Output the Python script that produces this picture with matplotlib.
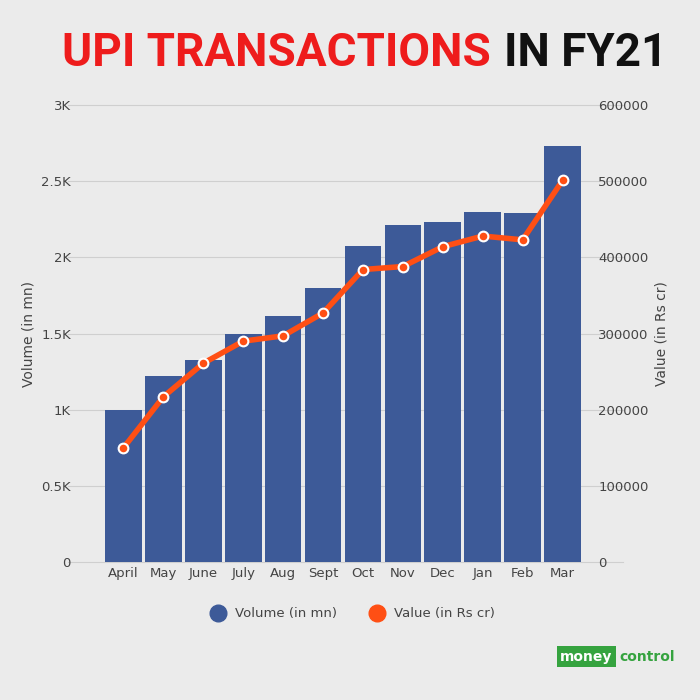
import matplotlib
matplotlib.use("Agg")
import matplotlib.pyplot as plt
import matplotlib.lines as mlines

months = ["April","May","June","July","Aug","Sept","Oct","Nov","Dec","Jan","Feb","Mar"]
volume = [999, 1223, 1325, 1497, 1618, 1800, 2072, 2210, 2234, 2297, 2293, 2731]
value = [150000, 217000, 261000, 290000, 297000, 327000, 384000, 388000, 414000, 428000, 423000, 501000]
left_ticks = [0, 500, 1000, 1500, 2000, 2500, 3000]
left_labels = ["0", "0.5K", "1K", "1.5K", "2K", "2.5K", "3K"]
right_ticks = [0, 100000, 200000, 300000, 400000, 500000, 600000]

bg = "#ebebeb"
fig = plt.figure(figsize=(7, 7), dpi=100, facecolor=bg)
ax = fig.add_axes([0.145, 0.197, 0.69, 0.653], facecolor=bg)
x = range(len(months))
ax.bar(x, volume, width=0.92, color="#3d5a98", zorder=2)
ax.set_ylim(0, 3000)
ax.set_xlim(-0.55, 11.55)
ax.set_yticks(left_ticks)
ax.set_yticklabels(left_labels)
ax.set_xticks(list(x))
ax.set_xticklabels(months)
ax.set_ylabel("Volume (in mn)", color="#444", fontsize=10)
for s in ax.spines.values():
    s.set_visible(False)
ax.tick_params(length=0, colors="#444", labelsize=9.5)
ax.yaxis.set_tick_params(pad=22)
for t in left_ticks:
    ax.axhline(t, xmin=-0.07, xmax=1.08, color="#cfcfcf", lw=0.8, zorder=0, clip_on=False)

ax2 = ax.twinx()
ax2.plot(list(x), value, color="#ff4f14", lw=4, marker="o", markersize=7,
         markerfacecolor="#ff4f14", markeredgecolor="white", markeredgewidth=1.5, zorder=3)
ax2.set_ylim(0, 600000)
ax2.set_yticks(right_ticks)
ax2.set_yticklabels([str(t) for t in right_ticks])
ax2.set_ylabel("Value (in Rs cr)", color="#444", fontsize=10)
for s in ax2.spines.values():
    s.set_visible(False)
ax2.tick_params(length=0, colors="#444", labelsize=9.5, pad=10)

hv = mlines.Line2D([], [], color="#3d5a98", marker="o", ls="", markersize=12)
hr = mlines.Line2D([], [], color="#ff4f14", marker="o", ls="", markersize=12)
fig.legend([hv, hr], ["Volume (in mn)", "Value (in Rs cr)"], loc="center",
           bbox_to_anchor=(0.5, 0.123), ncol=2, frameon=False, fontsize=9.5,
           labelcolor="#444", handletextpad=0.3, columnspacing=2)

fig.text(0.088, 0.925, "UPI TRANSACTIONS", color="#ee1c1c", fontsize=33,
         fontweight="heavy", family="Roboto", va="center")
fig.text(0.72, 0.925, "IN FY21", color="#111", fontsize=33,
         fontweight="heavy", family="Roboto", va="center")
fig.text(0.8, 0.062, "money", color="white", fontsize=10, fontweight="bold",
         ha="left", va="center", bbox=dict(boxstyle="square,pad=0.25", fc="#35a33f", ec="none"))
fig.text(0.885, 0.062, "control", color="#35a33f", fontsize=10, fontweight="bold",
         ha="left", va="center")
fig.savefig("out.png", facecolor=bg)
